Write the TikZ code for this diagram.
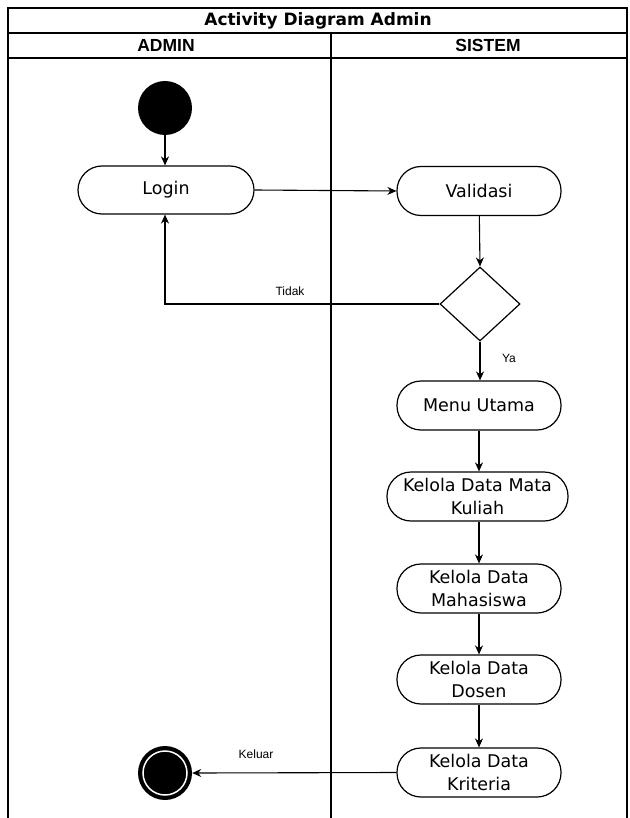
\documentclass[tikz,border=0pt]{standalone}
\usepackage{fontspec}
\setmainfont{DejaVu Sans}
\newfontfamily\hdrfont{Liberation Sans}
\usetikzlibrary{arrows.meta,shapes.geometric}
\tikzset{
  act/.style={draw, line width=1.2pt, rounded corners=24pt, minimum width=164pt, minimum height=49pt,
    align=center, font=\fontsize{17.5}{23}\selectfont, inner sep=2pt},
  flow/.style={draw, line width=1.1pt, -{Stealth[length=9pt,width=8pt]}},
  lbl/.style={font=\hdrfont\fontsize{12}{14}\selectfont, inner sep=0pt},
  lane/.style={line width=1.2pt}
}
\begin{document}
\begin{tikzpicture}[x=1pt,y=-1pt]
\useasboundingbox (0,0) rectangle (629,818);
% frame
\draw[lane] (8,818) -- (8,8) -- (627,8) -- (627,818);
\draw[lane] (8,33) -- (627,33);
\draw[lane] (8,58) -- (627,58);
\draw[lane] (331,33) -- (331,818);
\node[font=\bfseries\fontsize{17}{20}\selectfont] (title) at (318,21) {Activity Diagram Admin};
\node[font=\hdrfont\bfseries\fontsize{17.5}{20}\selectfont] (ladmin) at (166,45.5) {ADMIN};
\node[font=\hdrfont\bfseries\fontsize{17.5}{20}\selectfont] (lsistem) at (488,45.5) {SISTEM};
% nodes
\node[circle, fill=black, minimum size=54pt, inner sep=0pt] (start) at (165,108) {};
\node[act, minimum width=176pt, minimum height=48pt] (login) at (166,190) {Login};
\node[act] (valid) at (479,191) {Validasi};
\node[diamond, draw, line width=1.2pt, minimum width=80pt, minimum height=74pt, inner sep=0pt] (dec) at (480,304) {};
\node[act] (menu) at (479,405.5) {Menu Utama};
\node[act, minimum width=181pt] (mk) at (477.5,496.5) {Kelola Data Mata\\Kuliah};
\node[act] (mhs) at (479,588.5) {Kelola Data\\Mahasiswa};
\node[act] (dsn) at (479,679.5) {Kelola Data\\Dosen};
\node[act] (krt) at (479,772.5) {Kelola Data\\Kriteria};
% end node
\node[circle, fill=black, minimum size=54pt, inner sep=0pt] (end) at (165,773) {};
\node[circle, draw=white, line width=1.5pt, fill=black, minimum size=44pt, inner sep=0pt] (endin) at (165,773) {};
% edges
\draw[flow] (start) -- (login.north -| start);
\draw[flow] (login.east) -- (valid.west);
\draw[flow] (valid) -- (dec.north);
\draw[flow] (dec.west) -- (165,304) -- (login.south -| 165,0);
\node[lbl] (tidak) at (290,291) {Tidak};
\draw[flow] (dec.south) -- (menu.north -| dec);
\node[lbl] (ya) at (509,358) {Ya};
\draw[flow] (menu.south) -- (mk.north -| menu);
\draw[flow] (mk.south -| menu) -- (mhs.north);
\draw[flow] (mhs) -- (dsn);
\draw[flow] (dsn) -- (krt);
\draw[flow] (krt.west) -- (end.east);
\node[lbl] (keluar) at (256,754) {Keluar};
\end{tikzpicture}
\end{document}
